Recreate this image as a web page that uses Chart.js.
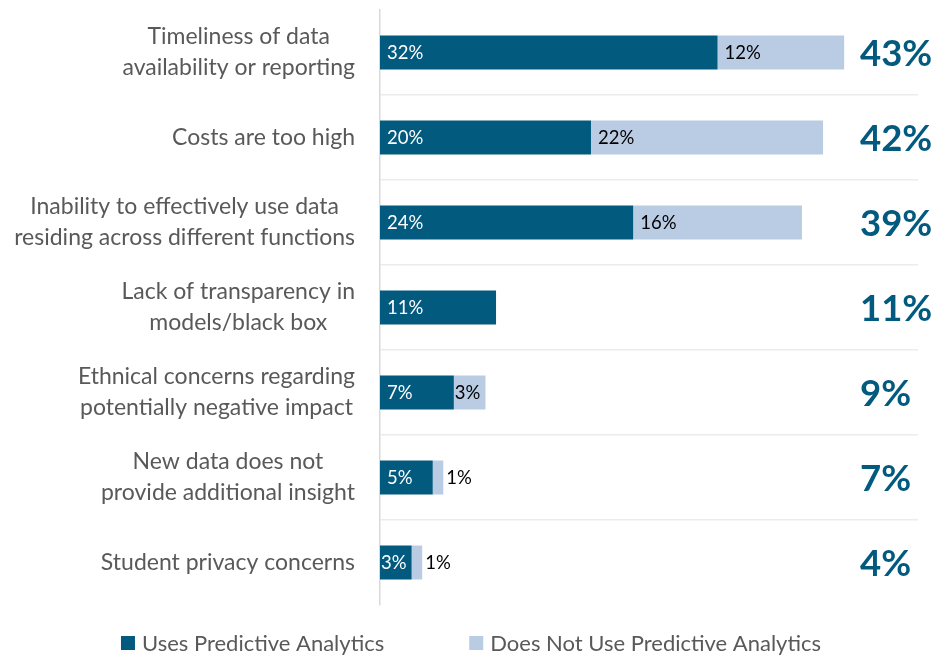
<!DOCTYPE html>
<html>
<head>
<meta charset="utf-8">
<script src="https://cdn.jsdelivr.net/npm/chart.js@4.4.0/dist/chart.umd.min.js"></script>
<style>
  html, body { margin: 0; padding: 0; background: #fff; }
  #wrap { width: 936px; height: 656px; position: relative; }
</style>
</head>
<body>
<div id="wrap"><canvas id="chart"></canvas></div>
<script>
const categories = [
  ['Timeliness of data', 'availability or reporting'],
  'Costs are too high',
  ['Inability to effectively use data', 'residing across different functions'],
  ['Lack of transparency in', 'models/black box'],
  ['Ethnical concerns regarding', 'potentially negative impact'],
  ['New data does not', 'provide additional insight'],
  'Student privacy concerns'
];
const usesPA = [32, 20, 24, 11, 7, 5, 3];
const notUsePA = [12, 22, 16, 0, 3, 1, 1];
const totals = [43, 42, 39, 11, 9, 7, 4];
const seriesNames = ['Uses Predictive Analytics', 'Does Not Use Predictive Analytics'];

const DARK = '#025a7f';
const LIGHT = '#b9cce4';
const GREY_TEXT = '#595959';
const FONT = 'Lato';

// category labels: block right-aligned, lines centred within the block
const categoryLabels = {
  id: 'categoryLabels',
  afterDraw(chart) {
    const ctx = chart.ctx;
    const ys = chart.scales.y;
    ctx.save();
    ctx.font = `23px ${FONT}`;
    ctx.fillStyle = GREY_TEXT;
    ctx.textAlign = 'center';
    ctx.textBaseline = 'middle';
    const right = ys.right - 25, lh = 31;
    chart.data.labels.forEach((lab, i) => {
      const lines = [].concat(lab);
      const w = Math.max(...lines.map(l => ctx.measureText(l).width));
      const cx = right - w / 2;
      const y0 = ys.getPixelForValue(i) - (lines.length - 1) * lh / 2;
      lines.forEach((l, k) => ctx.fillText(l, cx, y0 + k * lh));
    });
    ctx.restore();
  }
};

// value labels inside / next to each segment
const barLabels = {
  id: 'barLabels',
  afterDatasetsDraw(chart) {
    const ctx = chart.ctx;
    ctx.save();
    ctx.font = `18.5px ${FONT}`;
    ctx.textBaseline = 'middle';
    ctx.textAlign = 'left';
    chart.data.datasets.forEach((ds, di) => {
      chart.getDatasetMeta(di).data.forEach((bar, i) => {
        const v = ds.data[i];
        if (!v) return;
        const txt = v + '%';
        const tw = ctx.measureText(txt).width;
        const { x: end, base: start, y } = bar.getProps(['x', 'base', 'y'], true);
        const w = end - start;
        let x;
        if (w >= tw + 16) x = start + 7;
        else if (w >= tw - 2) x = start + 1;
        else x = end + 3;
        ctx.fillStyle = (di === 0 && x < end) ? '#fff' : '#000';
        ctx.fillText(txt, x, y + 1);
      });
    });
    ctx.restore();
  }
};

// big totals on the right
const totalLabels = {
  id: 'totalLabels',
  afterDatasetsDraw(chart) {
    const ctx = chart.ctx;
    const xs = chart.scales.x;
    ctx.save();
    ctx.font = `bold 36.5px ${FONT}`;
    ctx.fillStyle = DARK;
    ctx.textBaseline = 'middle';
    ctx.textAlign = 'left';
    chart.getDatasetMeta(0).data.forEach((bar, i) => {
      ctx.fillText(totals[i] + '%', xs.getPixelForValue(45.5), bar.y + 2);
    });
    ctx.restore();
  }
};

// legend with wide spacing between the two items
const bottomLegend = {
  id: 'bottomLegend',
  afterDraw(chart) {
    const ctx = chart.ctx;
    ctx.save();
    ctx.font = `22px ${FONT}`;
    ctx.textBaseline = 'middle';
    ctx.textAlign = 'left';
    const box = 14, gap = 7, spacing = 85;
    const items = chart.data.datasets.map(ds => ({
      text: ds.label,
      color: ds.backgroundColor,
      w: box + gap + ctx.measureText(ds.label).width
    }));
    const total = items.reduce((s, it) => s + it.w, 0) + spacing * (items.length - 1);
    let x = (chart.width - total) / 2 + 3;
    const y = chart.chartArea.bottom + 38;
    items.forEach(it => {
      ctx.fillStyle = it.color;
      ctx.fillRect(x, y - box / 2, box, box);
      ctx.fillStyle = GREY_TEXT;
      ctx.fillText(it.text, x + box + gap, y + 1);
      x += it.w + spacing;
    });
    ctx.restore();
  }
};

new Chart(document.getElementById('chart'), {
  type: 'bar',
  data: {
    labels: categories,
    datasets: [
      { label: seriesNames[0], data: usesPA, backgroundColor: DARK, barPercentage: 0.4, categoryPercentage: 1 },
      { label: seriesNames[1], data: notUsePA, backgroundColor: LIGHT, barPercentage: 0.4, categoryPercentage: 1 }
    ]
  },
  options: {
    indexAxis: 'y',
    responsive: true,
    maintainAspectRatio: false,
    animation: false,
    layout: { padding: { top: 10, right: 18, bottom: 51, left: 0 } },
    plugins: {
      legend: { display: false },
      tooltip: { enabled: false }
    },
    scales: {
      x: { stacked: true, min: 0, max: 51, display: false },
      y: {
        stacked: true,
        border: { color: '#d9d9d9', width: 1.5 },
        grid: {
          offset: true,
          drawTicks: false,
          lineWidth: 1.5,
          color: c => (c.type !== 'tick' || c.index === 0) ? 'rgba(0,0,0,0)' : '#ececec'
        },
        ticks: { display: false },
        afterFit: s => {
          s.width = 380;
          s.paddingTop = 0;
          s.paddingBottom = 0;
        }
      }
    }
  },
  plugins: [categoryLabels, barLabels, totalLabels, bottomLegend]
});
</script>
</body>
</html>
